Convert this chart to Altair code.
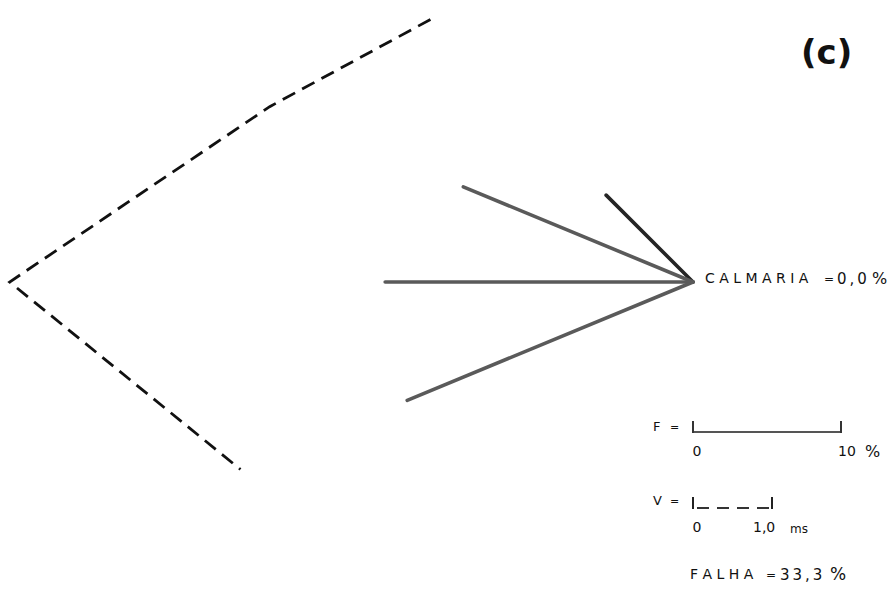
import altair as alt
import pandas as pd

# Wind directions observed, their frequency of occurrence (%) and mean speed (m/s)
direction = ["NW", "WNW", "W", "WSW"]
azimuth = [315.0, 292.5, 270.0, 247.5]
frequency_pct = [8.3, 16.8, 20.8, 20.9]
mean_speed = [4.7, 5.8, 8.65, 6.2]

# Reference bars of the key
freq_bar = [0.0, 10.0]      # F = 0 ... 10 %
speed_bar = [0.0, 1.0]      # V = 0 ... 1,0 m/s

NB = "\u00a0"   # non-breaking space (kept by SVG)
TH = "\u2009"   # thin space


def spaced(word, gap=NB):
    return gap.join(word)


# Drawing scale: pixels per 1 % of frequency, and length of 1 m/s in % units
W, H = 893, 589
CX, CY = 693, 282
PX_PER_PCT = 14.8
SPEED_TO_PCT = 79 / PX_PER_PCT

xs = alt.Scale(domain=[-CX / PX_PER_PCT, (W - CX) / PX_PER_PCT], nice=False, zero=False)
ys = alt.Scale(domain=[-(H - CY) / PX_PER_PCT, CY / PX_PER_PCT], nice=False, zero=False)

rose = pd.DataFrame({
    "direction": direction,
    "azimuth": azimuth,
    "frequency": frequency_pct,
    "speed": mean_speed,
})

# Frequency vectors from the station point
rays = (
    alt.Chart(rose)
    .transform_calculate(
        x0="0",
        y0="0",
        fx="datum.frequency * sin(datum.azimuth * PI / 180)",
        fy="datum.frequency * cos(datum.azimuth * PI / 180)",
    )
    .mark_rule(strokeWidth=3.6, strokeCap="round")
    .encode(
        x=alt.X("x0:Q", scale=xs, axis=None),
        y=alt.Y("y0:Q", scale=ys, axis=None),
        x2="fx:Q",
        y2="fy:Q",
        color=alt.when(alt.datum.direction == "NW")
        .then(alt.value("#252525"))
        .otherwise(alt.value("#5a5a5a")),
    )
)

# Mean-speed polygon (dashed) joining the speed vectors' tips
speed_poly = (
    alt.Chart(rose)
    .transform_calculate(
        vx=f"datum.speed * {SPEED_TO_PCT} * sin(datum.azimuth * PI / 180)",
        vy=f"datum.speed * {SPEED_TO_PCT} * cos(datum.azimuth * PI / 180)",
    )
    .mark_line(color="#111111", strokeWidth=2.8, strokeDash=[14, 8])
    .encode(
        x=alt.X("vx:Q", scale=xs, axis=None),
        y=alt.Y("vy:Q", scale=ys, axis=None),
        order=alt.Order("azimuth:Q", sort="descending"),
    )
)

# Key: frequency bar
fdf = pd.DataFrame({"pct": freq_bar})
f_line = (
    alt.Chart(pd.DataFrame({"a": [freq_bar[0]], "b": [freq_bar[1]]}))
    .mark_rule(color="#555555", strokeWidth=2)
    .encode(x=alt.X("a:Q", scale=xs, axis=None), x2="b:Q", y=alt.value(432))
)
f_ticks = (
    alt.Chart(fdf)
    .mark_rule(color="#333333", strokeWidth=2)
    .encode(x=alt.X("pct:Q", scale=xs, axis=None), y=alt.value(421), y2=alt.value(433))
)

# Key: speed bar (dashed)
vdf = pd.DataFrame({"v": [s * SPEED_TO_PCT for s in speed_bar]})
v_line = (
    alt.Chart(pd.DataFrame({"a": [speed_bar[0] * SPEED_TO_PCT], "b": [speed_bar[1] * SPEED_TO_PCT]}))
    .mark_rule(color="#333333", strokeWidth=2, strokeDash=[12, 8], strokeDashOffset=-4)
    .encode(x=alt.X("a:Q", scale=xs, axis=None), x2="b:Q", y=alt.value(508))
)
v_ticks = (
    alt.Chart(vdf)
    .mark_rule(color="#222222", strokeWidth=2)
    .encode(x=alt.X("v:Q", scale=xs, axis=None), y=alt.value(497), y2=alt.value(509))
)


def label(text, x, y, size=14, weight="normal", align="left"):
    return (
        alt.Chart(pd.DataFrame({"t": [text]}))
        .mark_text(
            font="DejaVu Sans",
            fontSize=size,
            fontWeight=weight,
            align=align,
            baseline="middle",
            color="#111111",
        )
        .encode(text="t:N", x=alt.value(x), y=alt.value(y))
    )


labels = [
    label("(c)", 801, 54, size=34, weight="bold"),
    # calm line
    label(spaced("CALMARIA"), 705, 279, size=14),
    label("=", 824, 279, size=12),
    label(spaced("0,0", TH), 837, 279, size=15),
    label("%", 872, 279, size=16),
    # frequency key
    label("F", 653, 427, size=13),
    label("=", 670, 428, size=11),
    label("0", 697, 452, size=14, align="center"),
    label("10", 838, 452, size=14),
    label("%", 865, 452, size=16),
    # speed key
    label("V", 653, 501, size=13),
    label("=", 670, 502, size=11),
    label("0", 697, 528, size=14, align="center"),
    label("1,0", 753, 528, size=14),
    label("ms", 790, 529, size=12),
    # missing observations
    label(spaced("FALHA"), 690, 575, size=14),
    label("=", 766, 575, size=12),
    label(spaced("33,3", TH), 780, 575, size=15),
    label("%", 830, 575, size=17),
]

chart = (
    alt.layer(speed_poly, rays, f_line, f_ticks, v_line, v_ticks, *labels)
    .properties(width=W, height=H, padding=0, autosize=alt.AutoSizeParams(type="none"), background="white")
    .configure_view(stroke=None)
)

chart.save("out.html", embed_options={"renderer": "svg", "actions": False})
